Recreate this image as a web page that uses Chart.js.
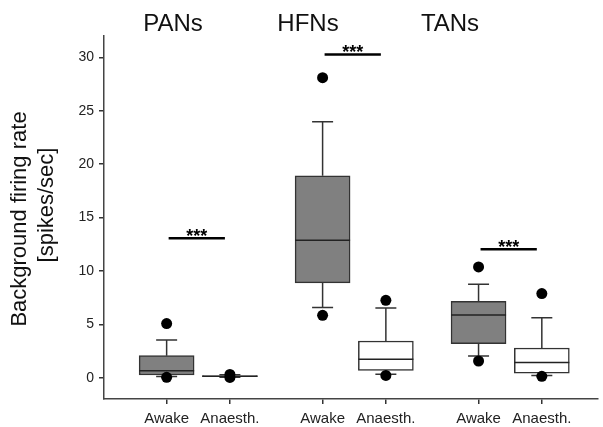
<!DOCTYPE html>
<html>
<head>
<meta charset="utf-8">
<script src="https://cdn.jsdelivr.net/npm/chart.js@4.4.0/dist/chart.umd.min.js"></script>
<style>
  body { margin: 0; background: #fff; }
  #wrap { width: 603px; height: 427px; }
</style>
</head>
<body>
<div id="wrap"><canvas id="boxChart" width="603" height="427"></canvas></div>
<script>
// groups and conditions
const groups = ['PANs', 'HFNs', 'TANs'];
const conditions = ['Awake', 'Anaesth.'];

// box statistics, one value per box (PAN awake, PAN anaesth, HFN awake, ...)
const whiskerLow  = [0.10, 0.03, 6.56, 0.31, 2.03, 0.19];
const q1          = [0.25, 0.08, 8.87, 0.68, 3.19, 0.43];
const median      = [0.65, 0.14, 12.87, 1.72, 5.87, 1.43];
const q3          = [2.06, 0.20, 18.90, 3.43, 7.15, 2.78];
const whiskerHigh = [3.53, 0.27, 23.96, 6.52, 8.74, 5.62];
const outliers    = [[5.06, 0.03], [0.30, 0.02], [28.1, 5.84], [7.24, 0.21], [10.37, 1.56], [7.87, 0.12]];

// significance bars: [from box, to box, y value]
const sigBars = [[0, 1, 13.06], [2, 3, 30.27], [4, 5, 12.02]];
const sigLabel = '***';

const yTicks = [0, 5, 10, 15, 20, 25, 30];

const FONT = 'Arial, "Liberation Sans", sans-serif';
const GROUP_GAP = 2.465;   // distance between groups in box units

function boxPos(i) {
    return Math.floor(i / 2) * GROUP_GAP + (i % 2);
}

const boxLabels = [];
const boxData = [];
const dotData = [];
for (let i = 0; i < median.length; i++) {
    boxLabels.push(conditions[i % 2]);
    boxData.push({ x: boxPos(i), y: [q1[i], q3[i]] });
    outliers[i].forEach(v => dotData.push({ x: boxPos(i), y: v }));
}
const boxFill = boxData.map((d, i) => i % 2 === 0 ? '#808080' : '#ffffff');

// whiskers, medians and annotations
const boxPlotExtras = {
    id: 'boxPlotExtras',
    beforeDatasetsDraw(chart) {
        const ctx = chart.ctx;
        const xs = chart.scales.x, ys = chart.scales.y;
        const cap = 10.5;
        ctx.save();
        ctx.strokeStyle = '#333';
        ctx.lineWidth = 1.5;
        for (let i = 0; i < median.length; i++) {
            const px = xs.getPixelForValue(boxPos(i));
            const lines = [[q3[i], whiskerHigh[i]], [q1[i], whiskerLow[i]]];
            lines.forEach(([a, b]) => {
                ctx.beginPath();
                ctx.moveTo(px, ys.getPixelForValue(a));
                ctx.lineTo(px, ys.getPixelForValue(b));
                ctx.moveTo(px - cap, ys.getPixelForValue(b));
                ctx.lineTo(px + cap, ys.getPixelForValue(b));
                ctx.stroke();
            });
        }
        ctx.restore();
    },
    afterDatasetDraw(chart, args) {
        if (args.index !== 0) return;
        const ctx = chart.ctx;
        const xs = chart.scales.x, ys = chart.scales.y;
        const half = 27.5;
        ctx.save();
        ctx.strokeStyle = '#222';
        ctx.lineWidth = 1.5;
        for (let i = 0; i < median.length; i++) {
            const px = xs.getPixelForValue(boxPos(i));
            const py = ys.getPixelForValue(median[i]);
            ctx.beginPath();
            ctx.moveTo(px - half, py);
            ctx.lineTo(px + half, py);
            ctx.stroke();
        }
        ctx.restore();
    },
    afterDraw(chart) {
        const ctx = chart.ctx;
        const xs = chart.scales.x, ys = chart.scales.y;
        ctx.save();
        // significance bars
        sigBars.forEach(([a, b, v]) => {
            const x1 = xs.getPixelForValue(boxPos(a)) + 2;
            const x2 = xs.getPixelForValue(boxPos(b)) - 5;
            const py = ys.getPixelForValue(v);
            ctx.strokeStyle = '#000';
            ctx.lineWidth = 2.5;
            ctx.beginPath();
            ctx.moveTo(x1, py);
            ctx.lineTo(x2, py);
            ctx.stroke();
            ctx.fillStyle = '#000';
            ctx.font = 'bold 18px ' + FONT;
            ctx.textAlign = 'center';
            ctx.textBaseline = 'alphabetic';
            ctx.fillText(sigLabel, (x1 + x2) / 2, py + 4);
        });
        // group titles
        const titleX = [173, 308, 450];
        ctx.fillStyle = '#111';
        ctx.font = '24px ' + FONT;
        ctx.textAlign = 'center';
        groups.forEach((g, k) => ctx.fillText(g, titleX[k], 31));
        // y axis title, two lines
        ctx.font = '22px ' + FONT;
        ctx.save();
        ctx.translate(20, 219);
        ctx.rotate(-Math.PI / 2);
        ctx.textBaseline = 'middle';
        ctx.fillText('Background firing rate', 0, 0);
        ctx.restore();
        ctx.save();
        ctx.translate(47, 205);
        ctx.rotate(-Math.PI / 2);
        ctx.textBaseline = 'middle';
        ctx.fillText('[spikes/sec]', 0, 0);
        ctx.restore();
        ctx.restore();
    }
};

new Chart(document.getElementById('boxChart'), {
    type: 'bar',
    data: {
        datasets: [
            {
                type: 'bar',
                data: boxData,
                backgroundColor: boxFill,
                borderColor: '#333',
                borderWidth: 1.5,
                borderSkipped: false,
                barThickness: 55,
                order: 1
            },
            {
                type: 'scatter',
                data: dotData,
                backgroundColor: '#000',
                borderWidth: 0,
                pointRadius: 5.5,
                order: 0
            }
        ]
    },
    options: {
        responsive: false,
        animation: false,
        layout: { padding: { top: 36, right: 2, left: 0, bottom: 0 } },
        plugins: { legend: { display: false }, tooltip: { enabled: false } },
        scales: {
            x: {
                type: 'linear',
                min: -0.99,
                max: 6.81,
                offset: false,
                afterBuildTicks(scale) {
                    scale.ticks = boxData.map(d => ({ value: d.x }));
                },
                afterFit(scale) { scale.height = 28; },
                ticks: {
                    autoSkip: false,
                    maxRotation: 0,
                    padding: 6,
                    color: '#222',
                    font: { family: FONT, size: 15 },
                    callback: (v, i) => boxLabels[i]
                },
                grid: { offset: false, drawOnChartArea: false, drawTicks: true, tickLength: 5, color: '#333', lineWidth: 1.5 },
                border: { color: '#444', width: 1.5 }
            },
            y: {
                min: -2,
                max: 32,
                afterBuildTicks(scale) {
                    scale.ticks = yTicks.map(v => ({ value: v }));
                },
                afterFit(scale) { scale.width = 104; },
                ticks: {
                    padding: 5,
                    color: '#222',
                    font: { family: FONT, size: 14 }
                },
                grid: { drawOnChartArea: false, drawTicks: true, tickLength: 5, color: '#333', lineWidth: 1.5 },
                border: { color: '#444', width: 1.5 }
            }
        }
    },
    plugins: [boxPlotExtras]
});
</script>
</body>
</html>
